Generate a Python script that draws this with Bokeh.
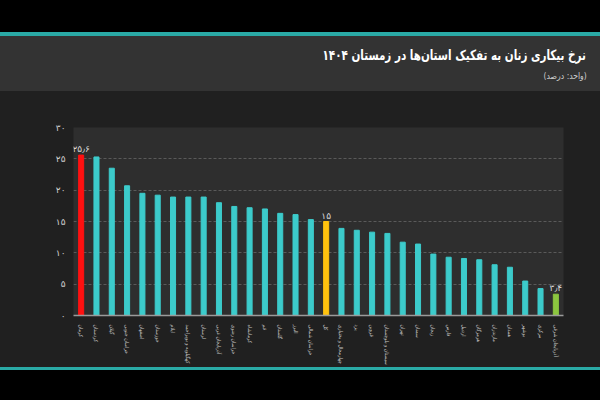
import math
from bokeh.plotting import figure
from bokeh.models import Div, FixedTicker, ColumnDataSource, Range1d
from bokeh.layouts import column
from bokeh.embed import file_html
from bokeh.resources import INLINE
from bokeh.core.properties import value

title_text = "نرخ بیکاری زنان به تفکیک استان‌ها در زمستان ۱۴۰۴"
subtitle_text = "(واحد: درصد)"

provinces = [
    "کرمان", "کردستان", "گیلان", "خراسان جنوبی", "اصفهان", "خوزستان", "ایلام",
    "کهگیلویه و بویراحمد", "لرستان", "آذربایجان غربی", "خراسان رضوی", "کرمانشاه",
    "قم", "گلستان", "البرز", "خراسان شمالی", "کل", "چهارمحال و بختیاری", "یزد",
    "قزوین", "سیستان و بلوچستان", "تهران", "سمنان", "زنجان", "فارس", "اردبیل",
    "هرمزگان", "مازندران", "همدان", "بوشهر", "مرکزی", "آذربایجان شرقی",
]
rates = [
    25.6, 25.3, 23.5, 20.7, 19.5, 19.2, 18.9, 18.9, 18.9, 18.0, 17.4, 17.2,
    17.0, 16.3, 16.1, 15.3, 15.0, 13.9, 13.6, 13.3, 13.1, 11.7, 11.4, 9.8,
    9.3, 9.1, 8.9, 8.1, 7.7, 5.5, 4.3, 3.4,
]
y_ticks = [0, 5, 10, 15, 20, 25, 30]
y_tick_labels = ["۰", "۵", "۱۰", "۱۵", "۲۰", "۲۵", "۳۰"]
highlight_labels = {"کرمان": "۲۵٫۶", "کل": "۱۵", "آذربایجان شرقی": "۳٫۴"}

TEAL = "#3ccbcb"
colors = []
for name in provinces:
    if name == "کرمان":
        colors.append("#ff1010")
    elif name == "کل":
        colors.append("#ffc20e")
    elif name == "آذربایجان شرقی":
        colors.append("#8cc63f")
    else:
        colors.append(TEAL)

src = ColumnDataSource(dict(x=provinces, y=rates, c=colors))

p = figure(x_range=provinces, y_range=Range1d(0, 30), width=600, height=276,
           output_backend="svg", toolbar_location=None,
           min_border_left=73, min_border_right=37, min_border_top=36, min_border_bottom=51,
           background_fill_color="#2e2e2e", border_fill_color="#202020",
           outline_line_color=None)
p.vbar(x="x", top="y", width=0.33, color="c", source=src)

lab_x = [k for k in highlight_labels]
lab_y = [rates[provinces.index(k)] for k in lab_x]
lab_t = [highlight_labels[k] for k in lab_x]
p.text(x=lab_x, y=lab_y, text=lab_t, text_align="center", text_baseline="bottom",
       y_offset=-1, text_font_size="9px", text_color="#d8d8d8",
       text_font=value("DejaVu Sans"))

p.yaxis.ticker = FixedTicker(ticks=y_ticks)
p.yaxis.major_label_overrides = {t: l for t, l in zip(y_ticks, y_tick_labels)}
p.yaxis.axis_line_color = None
p.yaxis.major_tick_line_color = None
p.yaxis.minor_tick_line_color = None
p.yaxis.major_label_text_color = "#d0d0d0"
p.yaxis.major_label_text_font_size = "9px"
p.yaxis.major_label_text_font = "DejaVu Sans"
p.yaxis.major_label_standoff = 2

p.xaxis.axis_line_color = "#9a9a9a"
p.xaxis.axis_line_width = 1.5
p.xaxis.major_tick_line_color = None
p.xaxis.minor_tick_line_color = None
p.xaxis.major_label_orientation = -math.pi / 2
p.xaxis.major_label_text_font_size = "5.3px"
p.xaxis.major_label_text_color = "#c0c0c0"
p.xaxis.major_label_text_font = "DejaVu Sans Condensed"
p.xaxis.major_label_standoff = 3

p.xgrid.grid_line_color = None
p.ygrid.grid_line_color = "#5a5a5a"
p.ygrid.grid_line_dash = "3 2"
p.ygrid.grid_line_width = 1

top_black = Div(text="", width=600, height=32, margin=0, styles={"background-color": "#000000"})
teal_top = Div(text="", width=600, height=4, margin=0, styles={"background-color": "#2aaaa6"})
header_html = (
    '<div dir="rtl" style="position:absolute;right:14px;top:9px;color:#ffffff;'
    'font-family:\'DejaVu Sans\';font-weight:bold;font-size:14px;white-space:nowrap;'
    'transform:scaleX(0.74);transform-origin:right center;">'
    + title_text + '</div>'
    '<div dir="rtl" style="position:absolute;right:13px;top:34px;color:#cfcfcf;'
    'font-family:\'DejaVu Sans\';font-size:9px;white-space:nowrap;'
    'transform:scaleX(0.85);transform-origin:right center;">'
    + subtitle_text + '</div>'
)
header = Div(text=header_html, width=600, height=55, margin=0,
             styles={"background-color": "#333333", "position": "relative"})
teal_bottom = Div(text="", width=600, height=3, margin=0, styles={"background-color": "#2aaaa6"})
bottom_black = Div(text="", width=600, height=30, margin=0, styles={"background-color": "#000000"})

layout = column(top_black, teal_top, header, p, teal_bottom, bottom_black, spacing=0,
                styles={"background-color": "#202020"})

html = file_html(layout, INLINE)
html = html.replace("<body>", '<body style="margin:0;background:#202020;">', 1)
open("out.html", "w").write(html)
